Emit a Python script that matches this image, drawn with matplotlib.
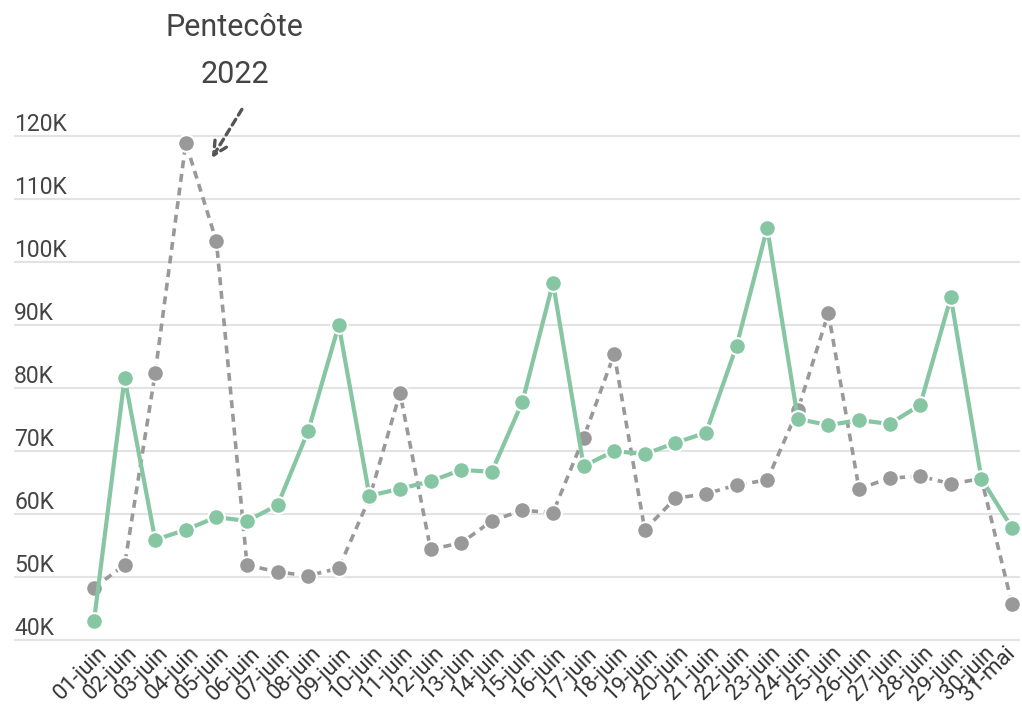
import matplotlib
matplotlib.use("Agg")
import matplotlib.pyplot as plt
import matplotlib.transforms as mtransforms

plt.rcParams['font.family'] = ['Roboto', 'DejaVu Sans']

labels = ["01-juin", "02-juin", "03-juin", "04-juin", "05-juin", "06-juin", "07-juin",
          "08-juin", "09-juin", "10-juin", "11-juin", "12-juin", "13-juin", "14-juin",
          "15-juin", "16-juin", "17-juin", "18-juin", "19-juin", "20-juin", "21-juin",
          "22-juin", "23-juin", "24-juin", "25-juin", "26-juin", "27-juin", "28-juin",
          "29-juin", "30-juin", "31-mai"]

green = [43.0, 81.6, 55.9, 57.5, 59.5, 58.9, 61.4, 73.2, 90.0, 62.9, 64.0, 65.2, 67.0, 66.7,
         77.8, 96.7, 67.6, 70.0, 69.5, 71.3, 72.9, 86.7, 105.4, 75.1, 74.1, 74.9, 74.3, 77.3,
         94.4, 65.6, 57.8]

gray = [48.3, 51.9, 82.4, 118.9, 103.3, 51.9, 50.8, 50.2, 51.4, 62.5, 79.2, 54.4, 55.4, 58.9,
        60.6, 60.2, 72.1, 85.4, 57.5, 62.5, 63.2, 64.6, 65.4, 76.5, 91.9, 64.0, 65.7, 66.0,
        64.8, 65.6, 45.7]

yticks = [40, 50, 60, 70, 80, 90, 100, 110, 120]
ytick_labels = ["40K", "50K", "60K", "70K", "80K", "90K", "100K", "110K", "120K"]

W, H = 1022, 712
fig = plt.figure(figsize=(W / 100, H / 100), dpi=100)
ax = fig.add_axes([14 / W, (H - 646) / H, (1020 - 14) / W, 516 / H])

x = list(range(len(labels)))
ax.set_xlim(-80 / 30.6, 30 + 8 / 30.6)
ax.set_ylim(40 - 6 / 6.3, 120 + 6 / 6.3)

for v in yticks:
    ax.axhline(v, color='#e3e3e3', lw=1.5, zorder=0)

ax.plot(x, gray, color='#999999', lw=2.6, ls=(0, (2.2, 1.6)), zorder=2,
        marker='o', ms=12, mfc='#999999', mec='white', mew=1.5)
ax.plot(x, green, color='#86c6a2', lw=3.0, zorder=3,
        marker='o', ms=12, mfc='#86c6a2', mec='white', mew=1.5)

for sp in ax.spines.values():
    sp.set_visible(False)

ax.set_yticks([])
trans = mtransforms.blended_transform_factory(ax.transAxes, ax.transData)
for v, lab in zip(yticks, ytick_labels):
    ax.text(0, v + 0.8, lab, transform=trans, ha='left', va='baseline',
            fontsize=16.5, color='#444444')

ax.set_xticks(x)
ax.set_xticklabels(labels, rotation=45, ha='right', va='top', rotation_mode='anchor',
                   fontsize=16, color='#333333')
ax.tick_params(axis='x', length=0, pad=2)
xt = ax.get_xticklabels()
for i, lbl in enumerate(xt):
    dx = 2.5 if i < len(xt) - 1 else -7
    off = mtransforms.ScaledTranslation(dx / 100, 6 / 100, fig.dpi_scale_trans)
    lbl.set_transform(lbl.get_transform() + off)

ax.text(4.6, 137.2, "Pentecôte", ha='center', va='center', fontsize=22,
        color='#444444', clip_on=False)
ax.text(4.6, 129.8, "2022", ha='center', va='center', fontsize=22,
        color='#444444', clip_on=False)
ax.annotate('', xy=(3.8, 116.1), xytext=(4.88, 124.6),
            arrowprops=dict(arrowstyle='->', color='#555555', lw=2.4, ls=(0, (2, 1.5)),
                            mutation_scale=24),
            annotation_clip=False)

fig.savefig('out.png', dpi=100)
